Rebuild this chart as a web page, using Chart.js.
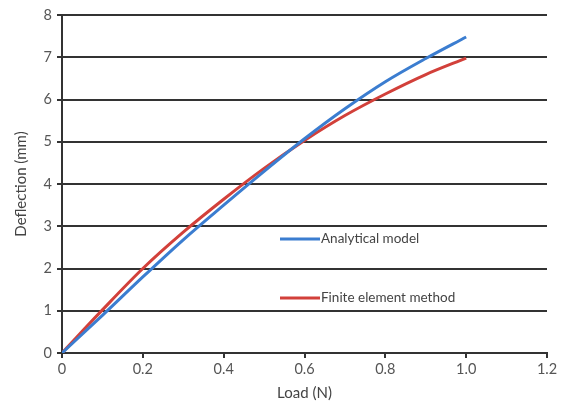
<!DOCTYPE html>
<html>
<head>
<meta charset="utf-8">
<title>Deflection vs load</title>
<script src="https://cdn.jsdelivr.net/npm/chart.js@4/dist/chart.umd.min.js"></script>
<style>
  html, body { margin: 0; padding: 0; background: #fff; }
  #wrap { width: 571px; height: 407px; }
</style>
</head>
<body>
<div id="wrap"><canvas id="deflChart" width="571" height="407"></canvas></div>
<script>
// load steps (N) and deflections (mm)
const loads = [0, 0.1, 0.2, 0.3, 0.4, 0.5, 0.6, 0.7, 0.8, 0.9, 1.0];
const analytical = [0, 0.89, 1.8, 2.68, 3.5, 4.3, 5.07, 5.78, 6.42, 6.97, 7.48];
const fem = [0, 1.02, 2.0, 2.86, 3.64, 4.37, 5.03, 5.62, 6.13, 6.59, 6.98];
const seriesNames = ["Analytical model", "Finite element method"];
const xTicks = [0, 0.2, 0.4, 0.6, 0.8, 1, 1.2];
const yTicks = [0, 1, 2, 3, 4, 5, 6, 7, 8];

const BLUE = "#3b7dd0";
const RED = "#d2403a";
const INK = "#333";
const FONT = "Lato, 'Liberation Sans', sans-serif";

const toPoints = (ys) => ys.map((y, i) => ({ x: loads[i], y: y }));

// legend entries sit inside the plot, one under the other
const innerLegend = {
  id: "innerLegend",
  afterDraw(chart) {
    const c = chart.ctx;
    const rows = [239, 298];
    c.save();
    c.font = "13.5px " + FONT;
    c.textBaseline = "middle";
    chart.data.datasets.forEach((ds, i) => {
      const y = rows[i];
      c.strokeStyle = ds.borderColor;
      c.lineWidth = 3;
      c.beginPath();
      c.moveTo(280, y);
      c.lineTo(320, y);
      c.stroke();
      c.fillStyle = "#444";
      c.fillText(ds.label, 321, y);
    });
    c.restore();
  }
};

const ctx = document.getElementById("deflChart").getContext("2d");

const chart = new Chart(ctx, {
  type: "line",
  data: {
    datasets: [
      {
        label: seriesNames[0],
        data: toPoints(analytical),
        borderColor: BLUE,
        borderWidth: 3,
        pointRadius: 0,
        cubicInterpolationMode: "monotone",
        fill: false
      },
      {
        label: seriesNames[1],
        data: toPoints(fem),
        borderColor: RED,
        borderWidth: 3,
        pointRadius: 0,
        cubicInterpolationMode: "monotone",
        fill: false
      }
    ]
  },
  options: {
    responsive: false,
    animation: false,
    layout: { padding: { top: 15, right: 24, bottom: 0, left: 0 } },
    plugins: {
      legend: { display: false },
      tooltip: { enabled: false }
    },
    scales: {
      x: {
        type: "linear",
        min: 0,
        max: 1.2,
        afterBuildTicks: (s) => { s.ticks = xTicks.map((v) => ({ value: v })); },
        afterFit: (s) => { s.height = 54; },
        ticks: { color: "#555", font: { family: FONT, size: 14.5 }, padding: 3, maxRotation: 0 },
        grid: { drawOnChartArea: false, drawTicks: true, tickLength: 5, color: INK, lineWidth: 2 },
        border: { display: true, color: INK, width: 2 },
        title: {
          display: true,
          text: "Load (N)",
          color: "#444",
          font: { family: FONT, size: 15 },
          padding: { top: 0, bottom: 5 }
        }
      },
      y: {
        min: 0,
        max: 8,
        afterBuildTicks: (s) => { s.ticks = yTicks.map((v) => ({ value: v })); },
        afterFit: (s) => { s.width = 62; },
        ticks: { color: "#555", font: { family: FONT, size: 14.5 }, padding: 5 },
        grid: { color: INK, lineWidth: 2, tickLength: 5 },
        border: { display: true, color: INK, width: 2 },
        title: {
          display: true,
          text: "Deflection (mm)",
          color: "#444",
          font: { family: FONT, size: 15 },
          padding: { top: 12, bottom: 0 }
        }
      }
    }
  },
  plugins: [innerLegend]
});
</script>
</body>
</html>
